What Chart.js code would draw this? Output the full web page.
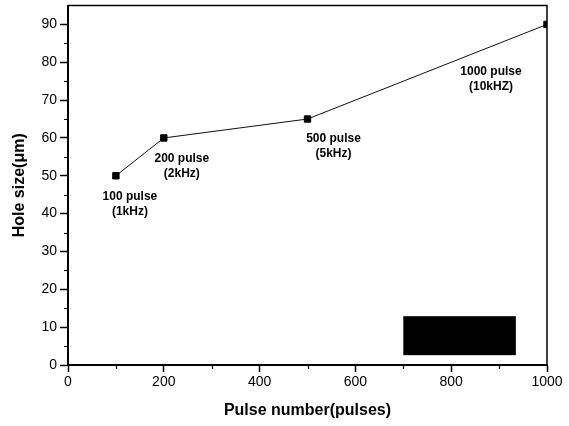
<!DOCTYPE html>
<html>
<head>
<meta charset="utf-8">
<script src="https://cdn.jsdelivr.net/npm/chart.js@4"></script>
<style>
  html, body { margin: 0; padding: 0; background: #fff; overflow: hidden; width: 569px; height: 426px; }
  #wrap { width: 600px; height: 426px; }
</style>
</head>
<body>
<div id="wrap"><canvas id="c" width="600" height="426"></canvas></div>
<script>
// Measured hole size versus number of laser pulses
const pulseCounts = [100, 200, 500, 1000];
const holeSizes = [50, 60, 65, 90];
const pointNotes = [
  ["100 pulse", "(1kHz)"],
  ["200 pulse", "(2kHz)"],
  ["500 pulse", "(5kHz)"],
  ["1000 pulse", "(10kHZ)"]
];
const xTickValues = [0, 200, 400, 600, 800, 1000];
const yTickValues = [0, 10, 20, 30, 40, 50, 60, 70, 80, 90];
const xMinorValues = [100, 300, 500, 700, 900];
const yMinorValues = [5, 15, 25, 35, 45, 55, 65, 75, 85];
// filled legend patch, in data units
const patchX = [700, 935];
const patchY = [2.6, 12.9];

const FONT = "'Liberation Sans', Arial, Helvetica, sans-serif";

// where each note sits relative to its point, in pixels
const noteOffsets = [
  { dx: 14, dy: 21 },
  { dx: 18, dy: 21 },
  { dx: 26, dy: 20 },
  { dx: -56, dy: 47 }
];

const decorations = {
  id: 'decorations',
  afterDatasetsDraw(chart) {
    const { ctx, chartArea: a, scales: { x, y } } = chart;
    ctx.save();

    // frame on top and right
    ctx.strokeStyle = '#000';
    ctx.lineWidth = 1.5;
    ctx.beginPath();
    ctx.moveTo(a.left, a.top);
    ctx.lineTo(a.right, a.top);
    ctx.lineTo(a.right, a.bottom);
    ctx.stroke();

    // minor ticks
    ctx.lineWidth = 1.2;
    ctx.beginPath();
    xMinorValues.forEach(v => {
      const px = Math.round(x.getPixelForValue(v)) + 0.5;
      ctx.moveTo(px, a.bottom);
      ctx.lineTo(px, a.bottom + 4);
    });
    yMinorValues.forEach(v => {
      const py = Math.round(y.getPixelForValue(v)) + 0.5;
      ctx.moveTo(a.left, py);
      ctx.lineTo(a.left - 4, py);
    });
    ctx.stroke();

    // legend patch
    const x0 = x.getPixelForValue(patchX[0]);
    const x1 = x.getPixelForValue(patchX[1]);
    const y0 = y.getPixelForValue(patchY[1]);
    const y1 = y.getPixelForValue(patchY[0]);
    ctx.fillStyle = '#000';
    ctx.fillRect(x0, y0, x1 - x0, y1 - y0);

    // point notes
    ctx.font = 'bold 12px ' + FONT;
    ctx.textAlign = 'center';
    ctx.textBaseline = 'middle';
    pulseCounts.forEach((p, i) => {
      const px = x.getPixelForValue(p) + noteOffsets[i].dx;
      const py = y.getPixelForValue(holeSizes[i]) + noteOffsets[i].dy;
      ctx.fillText(pointNotes[i][0], px, py);
      ctx.fillText(pointNotes[i][1], px, py + 15);
    });
    ctx.restore();
  }
};

new Chart(document.getElementById('c'), {
  type: 'line',
  data: {
    datasets: [{
      data: pulseCounts.map((p, i) => ({ x: p, y: holeSizes[i] })),
      borderColor: '#111',
      borderWidth: 1,
      pointStyle: 'rect',
      pointRadius: 4.5,
      pointBorderWidth: 1,
      pointBackgroundColor: '#000',
      pointBorderColor: '#000',
      tension: 0,
      clip: 0
    }]
  },
  options: {
    responsive: false,
    devicePixelRatio: 1,
    animation: false,
    layout: { padding: { top: 5, right: 53, left: 0, bottom: 0 } },
    plugins: { legend: { display: false }, tooltip: { enabled: false } },
    scales: {
      x: {
        type: 'linear',
        position: 'bottom',
        min: 0,
        max: 1000,
        afterBuildTicks: s => { s.ticks = xTickValues.map(v => ({ value: v })); },
        afterFit: s => { s.height = 61; s.paddingLeft = 0; s.paddingRight = 0; },
        grid: { drawOnChartArea: false, drawTicks: true, tickLength: 7, tickColor: '#000', tickWidth: 1.5 },
        border: { display: true, color: '#000', width: 2 },
        ticks: { color: '#000', font: { family: FONT, size: 14 }, padding: 2, maxRotation: 0, autoSkip: false, callback: v => String(v) },
        title: {
          display: true,
          text: 'Pulse number(pulses)',
          color: '#000',
          font: { family: FONT, size: 16, weight: 'bold' },
          padding: { top: 4, bottom: 6 }
        }
      },
      y: {
        type: 'linear',
        min: 0,
        max: 95,
        afterBuildTicks: s => { s.ticks = yTickValues.map(v => ({ value: v })); },
        afterFit: s => { s.width = 68; s.paddingTop = 0; s.paddingBottom = 0; },
        grid: { drawOnChartArea: false, drawTicks: true, tickLength: 8, tickColor: '#000', tickWidth: 1.5 },
        border: { display: true, color: '#000', width: 2 },
        ticks: { color: '#000', font: { family: FONT, size: 14 }, padding: 3, autoSkip: false, callback: v => String(v) },
        title: {
          display: true,
          text: 'Hole size(μm)',
          color: '#000',
          font: { family: FONT, size: 16, weight: 'bold' },
          padding: { top: 10, bottom: 4 }
        }
      }
    }
  },
  plugins: [decorations]
});
</script>
</body>
</html>
